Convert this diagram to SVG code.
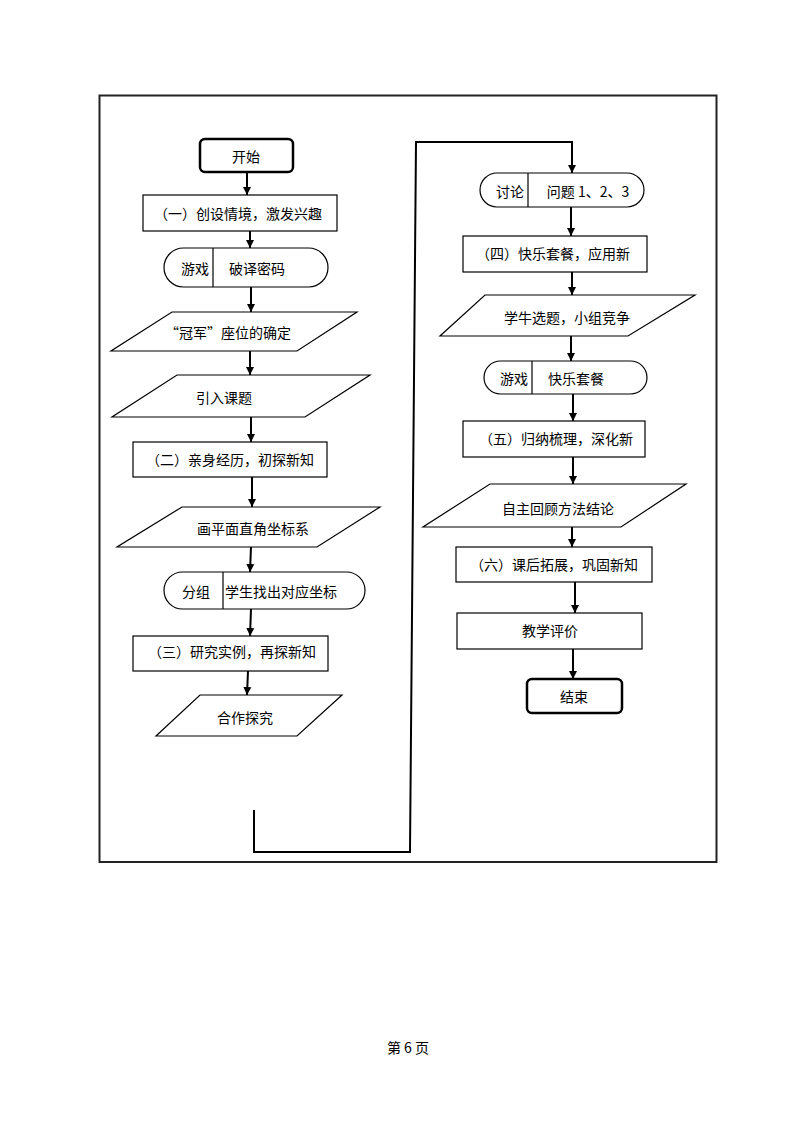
<svg xmlns="http://www.w3.org/2000/svg" width="794" height="1123" viewBox="0 0 794 1123">
<defs>
<marker id="ah" markerUnits="userSpaceOnUse" markerWidth="9" markerHeight="9" refX="8" refY="4.5" orient="auto">
<path d="M0,0.5 L8,4.5 L0,8.5 z" fill="#000"/>
</marker>
<style>
.t{font-family:"Noto Sans CJK SC","Noto Sans",sans-serif;font-size:14px;fill:#000;text-anchor:middle;dominant-baseline:central}
.s{fill:#fff;stroke:#000;stroke-width:1.2}
.b{fill:#fff;stroke:#000;stroke-width:2.5}
.c{fill:none;stroke:#000;stroke-width:2;marker-end:url(#ah)}
.p{fill:none;stroke:#000;stroke-width:2}
</style>
</defs>
<rect width="794" height="1123" fill="#fff"/>
<rect id="frame" x="99.5" y="95.5" width="617" height="766.5" fill="none" stroke="#222" stroke-width="2"/>

<g id="connectors">
<line class="c" x1="247" y1="172" x2="247" y2="195"/>
<line class="c" x1="250" y1="231" x2="250" y2="248"/>
<line class="c" x1="251" y1="287" x2="251" y2="312"/>
<line class="c" x1="250" y1="351" x2="250" y2="375"/>
<line class="c" x1="251" y1="417" x2="251" y2="442"/>
<line class="c" x1="252" y1="477" x2="252" y2="507"/>
<line class="c" x1="251" y1="547" x2="250" y2="572"/>
<line class="c" x1="251" y1="609" x2="250" y2="636"/>
<line class="c" x1="248" y1="671" x2="247" y2="695"/>
<path class="c" d="M254,810 L254,852 L410,852 L416,142 L572,142 L572,173"/>
<line class="c" x1="571" y1="207" x2="571" y2="236"/>
<line class="c" x1="572" y1="272" x2="572" y2="295"/>
<line class="c" x1="571" y1="336" x2="571" y2="361"/>
<line class="c" x1="573" y1="394" x2="573" y2="421"/>
<line class="c" x1="573" y1="457" x2="573" y2="484"/>
<line class="c" x1="572" y1="527" x2="572" y2="547"/>
<line class="c" x1="575" y1="582" x2="575" y2="613"/>
<line class="c" x1="573" y1="649" x2="573" y2="679"/>
</g>

<g id="start">
<rect class="b" x="200" y="139" width="93" height="33" rx="5"/>
<text class="t" x="246" y="156">开始</text>
</g>
<g id="step1">
<rect class="s" x="143" y="195" width="194" height="36"/>
<text class="t" x="238" y="213">（一）创设情境，激发兴趣</text>
</g>
<g id="game1">
<rect class="s" x="164" y="248" width="164" height="39" rx="19.5"/>
<line x1="213" y1="248" x2="213" y2="287" stroke="#000" stroke-width="1.2"/>
<text class="t" x="195" y="268">游戏</text>
<text class="t" x="257" y="268">破译密码</text>
</g>
<g id="seat">
<polygon class="s" points="172,312 357,312 297,351 111,351"/>
<text class="t" x="228" y="332">“冠军”座位的确定</text>
</g>
<g id="intro">
<polygon class="s" points="177,375 370,375 305,417 112,417"/>
<text class="t" x="224" y="397">引入课题</text>
</g>
<g id="step2">
<rect class="s" x="133" y="442" width="194" height="35"/>
<text class="t" x="230" y="459">（二）亲身经历，初探新知</text>
</g>
<g id="draw">
<polygon class="s" points="182,507 380,507 317,547 117,547"/>
<text class="t" x="253" y="528">画平面直角坐标系</text>
</g>
<g id="group">
<rect class="s" x="164" y="572" width="201" height="37" rx="18.5"/>
<line x1="223" y1="572" x2="223" y2="609" stroke="#000" stroke-width="1.2"/>
<text class="t" x="196" y="591">分组</text>
<text class="t" x="281" y="591">学生找出对应坐标</text>
</g>
<g id="step3">
<rect class="s" x="133" y="636" width="195" height="35"/>
<text class="t" x="232" y="651">（三）研究实例，再探新知</text>
</g>
<g id="coop">
<polygon class="s" points="200,695 342,695 297,736 156,736"/>
<text class="t" x="245" y="717">合作探究</text>
</g>

<g id="discuss">
<rect class="s" x="480" y="173" width="164" height="34" rx="17"/>
<line x1="528" y1="173" x2="528" y2="207" stroke="#000" stroke-width="1.2"/>
<text class="t" x="510" y="191">讨论</text>
<text class="t" x="588" y="191">问题 1、2、3</text>
</g>
<g id="step4">
<rect class="s" x="463" y="236" width="184" height="36"/>
<text class="t" x="553" y="253">（四）快乐套餐，应用新</text>
</g>
<g id="choose">
<polygon class="s" points="485,295 695,295 628,336 440,336"/>
<text class="t" x="567" y="317">学牛选题，小组竞争</text>
</g>
<g id="game2">
<rect class="s" x="484" y="361" width="163" height="33" rx="16.5"/>
<line x1="532" y1="361" x2="532" y2="394" stroke="#000" stroke-width="1.2"/>
<text class="t" x="514" y="378">游戏</text>
<text class="t" x="576" y="378">快乐套餐</text>
</g>
<g id="step5">
<rect class="s" x="463" y="421" width="182" height="36"/>
<text class="t" x="556" y="438">（五）归纳梳理，深化新</text>
</g>
<g id="review">
<polygon class="s" points="490,484 686,484 621,527 423,527"/>
<text class="t" x="558" y="508">自主回顾方法结论</text>
</g>
<g id="step6">
<rect class="s" x="456" y="547" width="196" height="35"/>
<text class="t" x="554" y="564">（六）课后拓展，巩固新知</text>
</g>
<g id="eval">
<rect class="s" x="457" y="613" width="185" height="36"/>
<text class="t" x="550" y="630">教学评价</text>
</g>
<g id="end">
<rect class="b" x="527" y="679" width="95" height="34" rx="5"/>
<text class="t" x="574" y="696">结束</text>
</g>

<text class="t" x="408" y="1047">第 6 页</text>
</svg>
